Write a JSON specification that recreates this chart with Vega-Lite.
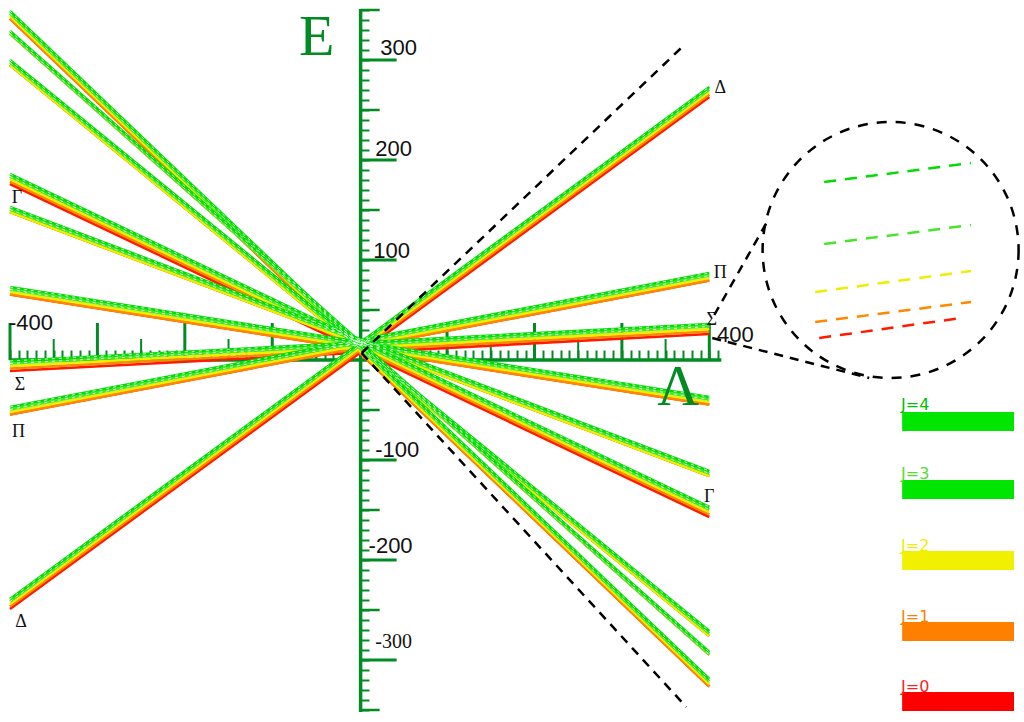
{
  "$schema": "https://vega.github.io/schema/vega-lite/v6.json",
  "width": 1024,
  "height": 722,
  "padding": 0,
  "autosize": {"type": "fit", "contains": "padding"},
  "background": "white",
  "config": {"view": {"stroke": null}},
  "datasets": {
    "lines": [
      {"g": "G1", "J": 0, "x": -400, "y": 341.5, "x2": 400, "y2": -326.5},
      {"g": "G2", "J": 0, "x": -400, "y": 326.5, "x2": 400, "y2": -294.5},
      {"g": "G3", "J": 0, "x": -400, "y": 295, "x2": 400, "y2": -276},
      {"g": "Γ", "J": 0, "x": -400, "y": 176, "x2": 400, "y2": -157},
      {"g": "G5", "J": 0, "x": -400, "y": 148, "x2": 400, "y2": -116},
      {"g": "G6", "J": 0, "x": -400, "y": 65.5, "x2": 400, "y2": -44.5},
      {"g": "Σ", "J": 0, "x": -400, "y": -11, "x2": 400, "y2": 26},
      {"g": "Π", "J": 0, "x": -400, "y": -54.5, "x2": 400, "y2": 79.5},
      {"g": "Δ", "J": 0, "x": -400, "y": -249, "x2": 400, "y2": 263},
      {"g": "G1", "J": 1, "x": -400, "y": 341.5, "x2": 400, "y2": -326.5},
      {"g": "G2", "J": 1, "x": -400, "y": 326.5, "x2": 400, "y2": -294.5},
      {"g": "G3", "J": 1, "x": -400, "y": 295, "x2": 400, "y2": -276},
      {"g": "Γ", "J": 1, "x": -400, "y": 178.5, "x2": 400, "y2": -154.5},
      {"g": "G5", "J": 1, "x": -400, "y": 148, "x2": 400, "y2": -116},
      {"g": "G6", "J": 1, "x": -400, "y": 65.5, "x2": 400, "y2": -44.5},
      {"g": "Σ", "J": 1, "x": -400, "y": -8.5, "x2": 400, "y2": 28.5},
      {"g": "Π", "J": 1, "x": -400, "y": -54.5, "x2": 400, "y2": 79.5},
      {"g": "Δ", "J": 1, "x": -400, "y": -246.5, "x2": 400, "y2": 265.5},
      {"g": "G1", "J": 2, "x": -400, "y": 344, "x2": 400, "y2": -324},
      {"g": "G2", "J": 2, "x": -400, "y": 326.5, "x2": 400, "y2": -294.5},
      {"g": "G3", "J": 2, "x": -400, "y": 295, "x2": 400, "y2": -276},
      {"g": "Γ", "J": 2, "x": -400, "y": 181, "x2": 400, "y2": -152},
      {"g": "G5", "J": 2, "x": -400, "y": 148, "x2": 400, "y2": -116},
      {"g": "G6", "J": 2, "x": -400, "y": 68, "x2": 400, "y2": -42},
      {"g": "Σ", "J": 2, "x": -400, "y": -6, "x2": 400, "y2": 31},
      {"g": "Π", "J": 2, "x": -400, "y": -52, "x2": 400, "y2": 82},
      {"g": "Δ", "J": 2, "x": -400, "y": -244, "x2": 400, "y2": 268},
      {"g": "G1", "J": 3, "x": -400, "y": 346.5, "x2": 400, "y2": -321.5},
      {"g": "G2", "J": 3, "x": -400, "y": 326.5, "x2": 400, "y2": -294.5},
      {"g": "G3", "J": 3, "x": -400, "y": 297.5, "x2": 400, "y2": -273.5},
      {"g": "Γ", "J": 3, "x": -400, "y": 183.5, "x2": 400, "y2": -149.5},
      {"g": "G5", "J": 3, "x": -400, "y": 150.5, "x2": 400, "y2": -113.5},
      {"g": "G6", "J": 3, "x": -400, "y": 70.5, "x2": 400, "y2": -39.5},
      {"g": "Σ", "J": 3, "x": -400, "y": -3.5, "x2": 400, "y2": 33.5},
      {"g": "Π", "J": 3, "x": -400, "y": -49.5, "x2": 400, "y2": 84.5},
      {"g": "Δ", "J": 3, "x": -400, "y": -241.5, "x2": 400, "y2": 270.5},
      {"g": "G1", "J": 4, "x": -400, "y": 349, "x2": 400, "y2": -319},
      {"g": "G2", "J": 4, "x": -400, "y": 329, "x2": 400, "y2": -292},
      {"g": "G3", "J": 4, "x": -400, "y": 300, "x2": 400, "y2": -271},
      {"g": "Γ", "J": 4, "x": -400, "y": 186, "x2": 400, "y2": -147},
      {"g": "G5", "J": 4, "x": -400, "y": 153, "x2": 400, "y2": -111},
      {"g": "G6", "J": 4, "x": -400, "y": 73, "x2": 400, "y2": -37},
      {"g": "Σ", "J": 4, "x": -400, "y": -1, "x2": 400, "y2": 36},
      {"g": "Π", "J": 4, "x": -400, "y": -47, "x2": 400, "y2": 87},
      {"g": "Δ", "J": 4, "x": -400, "y": -239, "x2": 400, "y2": 273}
    ],
    "inset": [
      {"J": 4, "x": 531.4, "y": 178, "x2": 699.4, "y2": 197},
      {"J": 3, "x": 531.4, "y": 116, "x2": 699.4, "y2": 135},
      {"J": 2, "x": 521.1, "y": 68, "x2": 699.4, "y2": 89},
      {"J": 1, "x": 521.1, "y": 38, "x2": 699.4, "y2": 58},
      {"J": 0, "x": 525.7, "y": 22, "x2": 688, "y2": 42}
    ],
    "legend": [
      {"J": 4, "t": "J=4", "x": 620.6, "y": -52, "x2": 748.6, "y2": -71, "lx": 619.4, "ly": -50},
      {"J": 3, "t": "J=3", "x": 620.6, "y": -120, "x2": 748.6, "y2": -139, "lx": 619.4, "ly": -119},
      {"J": 2, "t": "J=2", "x": 620.6, "y": -191, "x2": 748.6, "y2": -210, "lx": 619.4, "ly": -191},
      {"J": 1, "t": "J=1", "x": 620.6, "y": -262, "x2": 748.6, "y2": -281, "lx": 619.4, "ly": -262},
      {"J": 0, "t": "J=0", "x": 620.6, "y": -332, "x2": 748.6, "y2": -351, "lx": 619.4, "ly": -332}
    ]
  },
  "encoding": {
    "x": {
      "field": "x", "type": "quantitative",
      "scale": {"domain": [-411.4286, 758.8571], "nice": false, "zero": false},
      "axis": {
        "orient": "top", "offset": -360, "domain": false, "grid": false, "labels": false, "title": null,
        "tickSize": 10, "tickWidth": 2, "tickColor": "#008c22",
        "values": [-400,-390,-380,-370,-360,-350,-340,-330,-320,-310,-300,-290,-280,-270,-260,-250,-240,-230,-220,-210,-200,-190,-180,-170,-160,-150,-140,-130,-120,-110,-100,-90,-80,-70,-60,-50,-40,-30,-20,-10,10,20,30,40,50,60,70,80,90,100,110,120,130,140,150,160,170,180,190,200,210,220,230,240,250,260,270,280,290,300,310,320,330,340,350,360,370,380,390,400,410]
      }
    },
    "y": {
      "field": "y", "type": "quantitative",
      "scale": {"domain": [-362, 360], "nice": false, "zero": false},
      "axis": {
        "orient": "right", "offset": -663, "domain": false, "grid": false, "labels": false, "title": null,
        "tickSize": 9, "tickWidth": 2, "tickColor": "#008c22",
        "values": [-350,-340,-330,-320,-310,-300,-290,-280,-270,-260,-250,-240,-230,-220,-210,-200,-190,-180,-170,-160,-150,-140,-130,-120,-110,-100,-90,-80,-70,-60,-50,-40,-30,-20,-10,10,20,30,40,50,60,70,80,90,100,110,120,130,140,150,160,170,180,190,200,210,220,230,240,250,260,270,280,290,300,310,320,330,340,350]
      }
    }
  },
  "layer": [
    {
      "data": {"values": [{"x": 1.1, "y": -352, "x2": 1.1, "y2": 351}, {"x": -400, "y": 0, "x2": 413.7, "y2": 0}]},
      "mark": {"type": "rule", "color": "#008c22", "strokeWidth": 3.5},
      "encoding": {"x2": {"field": "x2"}, "y2": {"field": "y2"}}
    },
    {
      "data": {"values": [{"x": -400, "y": 0}, {"x": -300, "y": 0}, {"x": -200, "y": 0}, {"x": -100, "y": 0}, {"x": 100, "y": 0}, {"x": 200, "y": 0}, {"x": 300, "y": 0}, {"x": 400, "y": 0}]},
      "mark": {"type": "rule", "color": "#008c22", "strokeWidth": 3},
      "encoding": {"y2": {"datum": 37}}
    },
    {
      "data": {"values": [{"x": -350, "y": 0}, {"x": -250, "y": 0}, {"x": -150, "y": 0}, {"x": -50, "y": 0}, {"x": 50, "y": 0}, {"x": 150, "y": 0}, {"x": 250, "y": 0}, {"x": 350, "y": 0}]},
      "mark": {"type": "rule", "color": "#008c22", "strokeWidth": 2},
      "encoding": {"y2": {"datum": 21}}
    },
    {
      "data": {"values": [{"x": 1.1, "y": -300}, {"x": 1.1, "y": -200}, {"x": 1.1, "y": -100}, {"x": 1.1, "y": 100}, {"x": 1.1, "y": 200}, {"x": 1.1, "y": 300}]},
      "mark": {"type": "rule", "color": "#008c22", "strokeWidth": 3},
      "encoding": {"x2": {"datum": 42.3}}
    },
    {
      "data": {"values": [{"x": 1.1, "y": -350}, {"x": 1.1, "y": -250}, {"x": 1.1, "y": -150}, {"x": 1.1, "y": -50}, {"x": 1.1, "y": 50}, {"x": 1.1, "y": 150}, {"x": 1.1, "y": 250}, {"x": 1.1, "y": 350}]},
      "mark": {"type": "rule", "color": "#008c22", "strokeWidth": 2.5},
      "encoding": {"x2": {"datum": 22.9}}
    },
    {
      "data": {"name": "lines"},
      "mark": {"type": "rule", "strokeWidth": 2.7},
      "encoding": {
        "x2": {"field": "x2"}, "y2": {"field": "y2"},
        "color": {"field": "J", "type": "ordinal", "legend": null,
          "scale": {"domain": [0, 1, 2, 3, 4], "range": ["#ff1a00", "#ff8800", "#eeee00", "#44e62a", "#00dd00"]}}
      }
    },
    {
      "data": {"name": "lines"},
      "transform": [{"filter": "datum.J >= 3"}],
      "mark": {"type": "rule", "strokeWidth": 0.9, "color": "white", "strokeDash": [3, 4], "opacity": 0.9},
      "encoding": {"x2": {"field": "x2"}, "y2": {"field": "y2"}}
    },
    {
      "data": {"values": [
        {"x": 2.3, "y": 7, "x2": 369, "y2": 313},
        {"x": 2.3, "y": 7, "x2": 373.7, "y2": -347},
        {"x": 405.7, "y": 45, "x2": 468.6, "y2": 142},
        {"x": 403.4, "y": 22, "x2": 582.9, "y2": -18}
      ]},
      "mark": {"type": "rule", "color": "black", "strokeWidth": 2.5, "strokeDash": [9, 7]},
      "encoding": {"x2": {"field": "x2"}, "y2": {"field": "y2"}}
    },
    {
      "data": {"values": [{"x": 607.4, "y": 110}]},
      "mark": {"type": "point", "shape": "circle", "size": 65536, "filled": false, "stroke": "black", "strokeWidth": 2.5, "strokeDash": [10, 9], "opacity": 1}
    },
    {
      "data": {"name": "inset"},
      "mark": {"type": "rule", "strokeWidth": 2.5, "strokeDash": [12, 9]},
      "encoding": {
        "x2": {"field": "x2"}, "y2": {"field": "y2"},
        "color": {"field": "J", "type": "ordinal", "legend": null,
          "scale": {"domain": [0, 1, 2, 3, 4], "range": ["#ff1a00", "#ff8800", "#eeee00", "#44e62a", "#00dd00"]}}
      }
    },
    {
      "data": {"name": "legend"},
      "mark": {"type": "rect"},
      "encoding": {
        "x2": {"field": "x2"}, "y2": {"field": "y2"},
        "color": {"field": "J", "type": "ordinal", "legend": null,
          "scale": {"domain": [0, 1, 2, 3, 4], "range": ["#ff0000", "#ff8000", "#f0f000", "#00e600", "#00e600"]}}
      }
    },
    {
      "data": {"name": "legend"},
      "mark": {"type": "text", "font": "DejaVu Sans", "fontSize": 16, "align": "left", "baseline": "alphabetic"},
      "encoding": {
        "x": {"field": "lx", "type": "quantitative"},
        "y": {"field": "ly", "type": "quantitative"},
        "text": {"field": "t"},
        "color": {"field": "J", "type": "ordinal", "legend": null,
          "scale": {"domain": [0, 1, 2, 3, 4], "range": ["#ff2020", "#ff8000", "#eeee00", "#55dd33", "#00c000"]}}
      }
    },
    {
      "data": {"values": [
        {"x": 44.6, "y": 305, "t": "300"},
        {"x": 38.9, "y": 204, "t": "200"},
        {"x": 36.6, "y": 102, "t": "100"},
        {"x": 42.9, "y": -97, "t": "-100"},
        {"x": 35.4, "y": -193, "t": "-200"},
        {"x": -376, "y": 30, "t": "-400"},
        {"x": 429.7, "y": 18, "t": "400"}
      ]},
      "mark": {"type": "text", "font": "Liberation Sans", "fontSize": 22, "align": "center", "baseline": "alphabetic", "color": "#111111"},
      "encoding": {"text": {"field": "t"}}
    },
    {
      "data": {"values": [{"x": 38.9, "y": -288, "t": "-300"}]},
      "mark": {"type": "text", "font": "Liberation Serif", "fontSize": 20, "align": "center", "baseline": "alphabetic", "color": "#111111"},
      "encoding": {"text": {"field": "t"}}
    },
    {
      "data": {"values": [
        {"x": 412.6, "y": 267, "t": "Δ"},
        {"x": -387.4, "y": -267, "t": "Δ"},
        {"x": 412.6, "y": 82, "t": "Π"},
        {"x": -390.3, "y": -77, "t": "Π"},
        {"x": 402.9, "y": 35, "t": "Σ"},
        {"x": -388.6, "y": -30, "t": "Σ"},
        {"x": -392, "y": 157, "t": "Γ"},
        {"x": 400, "y": -142, "t": "Γ"}
      ]},
      "mark": {"type": "text", "font": "Liberation Serif", "fontSize": 18, "align": "center", "baseline": "alphabetic", "color": "#111111"},
      "encoding": {"text": {"field": "t"}}
    },
    {
      "data": {"values": [
        {"x": -49.1, "y": 305, "t": "E"},
        {"x": 364.6, "y": -45, "t": "Λ"}
      ]},
      "mark": {"type": "text", "font": "Liberation Serif", "fontSize": 58, "align": "center", "baseline": "alphabetic", "color": "#008c22"},
      "encoding": {"text": {"field": "t"}}
    }
  ],
  "resolve": {"scale": {"color": "independent"}}
}
